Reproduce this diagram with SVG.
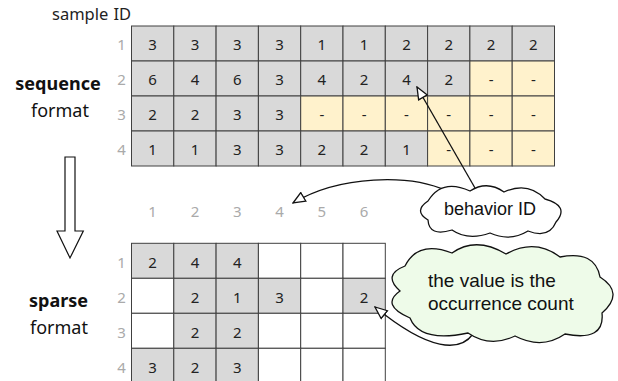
<svg xmlns="http://www.w3.org/2000/svg" width="618" height="381" viewBox="0 0 618 381">
<defs>
<style>
.g{fill:#d9d9d9;stroke:#404040;stroke-width:1}
.y{fill:#fff2cc;stroke:#404040;stroke-width:1}
.w{fill:#ffffff;stroke:#404040;stroke-width:1}
.n{font-family:"Noto Sans","Liberation Sans",sans-serif;font-size:15px;fill:#222;text-anchor:middle}
.lab{font-family:"Noto Sans","Liberation Sans",sans-serif;font-size:15px;fill:#aaaaaa;text-anchor:middle}
.big{font-family:"Noto Sans","Liberation Sans",sans-serif;font-size:18px;fill:#111;text-anchor:middle}
.ct{font-family:"Liberation Sans",Arial,sans-serif;fill:#111}
.cl{stroke:#111;stroke-width:1.3}
.conn{fill:none;stroke:#111;stroke-width:1.3}
</style>
<marker id="ah" viewBox="0 0 14 12" refX="13" refY="6" markerWidth="14" markerHeight="12" markerUnits="userSpaceOnUse" orient="auto">
<path d="M1,1 L13,6 L1,11 Z" fill="#fff" stroke="#111" stroke-width="1.3"/>
</marker>
</defs>
<rect width="618" height="381" fill="#fff"/>

<g id="title-labels">
<text x="52" y="20" font-family="'Noto Sans','Liberation Sans',sans-serif" font-size="16.5" fill="#222">sample</text>
<text x="113.5" y="20" font-family="'Noto Sans','Liberation Sans',sans-serif" font-size="16.5" fill="#222">ID</text>
<text class="big" x="58" y="90" font-weight="bold">sequence</text>
<text class="big" x="60" y="117">format</text>
<text class="big" x="58.5" y="307" font-weight="bold">sparse</text>
<text class="big" x="59" y="334">format</text>
</g>

<g id="sequence-grid">
<rect class="g" x="131.5" y="26" width="42.3" height="35"/><rect class="g" x="173.8" y="26" width="42.3" height="35"/><rect class="g" x="216.1" y="26" width="42.3" height="35"/><rect class="g" x="258.4" y="26" width="42.3" height="35"/><rect class="g" x="300.7" y="26" width="42.3" height="35"/><rect class="g" x="343" y="26" width="42.3" height="35"/><rect class="g" x="385.3" y="26" width="42.3" height="35"/><rect class="g" x="427.6" y="26" width="42.3" height="35"/><rect class="g" x="469.9" y="26" width="42.3" height="35"/><rect class="g" x="512.2" y="26" width="42.3" height="35"/>
<rect class="g" x="131.5" y="61" width="42.3" height="35"/><rect class="g" x="173.8" y="61" width="42.3" height="35"/><rect class="g" x="216.1" y="61" width="42.3" height="35"/><rect class="g" x="258.4" y="61" width="42.3" height="35"/><rect class="g" x="300.7" y="61" width="42.3" height="35"/><rect class="g" x="343" y="61" width="42.3" height="35"/><rect class="g" x="385.3" y="61" width="42.3" height="35"/><rect class="g" x="427.6" y="61" width="42.3" height="35"/><rect class="y" x="469.9" y="61" width="42.3" height="35"/><rect class="y" x="512.2" y="61" width="42.3" height="35"/>
<rect class="g" x="131.5" y="96" width="42.3" height="35"/><rect class="g" x="173.8" y="96" width="42.3" height="35"/><rect class="g" x="216.1" y="96" width="42.3" height="35"/><rect class="g" x="258.4" y="96" width="42.3" height="35"/><rect class="y" x="300.7" y="96" width="42.3" height="35"/><rect class="y" x="343" y="96" width="42.3" height="35"/><rect class="y" x="385.3" y="96" width="42.3" height="35"/><rect class="y" x="427.6" y="96" width="42.3" height="35"/><rect class="y" x="469.9" y="96" width="42.3" height="35"/><rect class="y" x="512.2" y="96" width="42.3" height="35"/>
<rect class="g" x="131.5" y="131" width="42.3" height="35"/><rect class="g" x="173.8" y="131" width="42.3" height="35"/><rect class="g" x="216.1" y="131" width="42.3" height="35"/><rect class="g" x="258.4" y="131" width="42.3" height="35"/><rect class="g" x="300.7" y="131" width="42.3" height="35"/><rect class="g" x="343" y="131" width="42.3" height="35"/><rect class="g" x="385.3" y="131" width="42.3" height="35"/><rect class="y" x="427.6" y="131" width="42.3" height="35"/><rect class="y" x="469.9" y="131" width="42.3" height="35"/><rect class="y" x="512.2" y="131" width="42.3" height="35"/>
<text class="n" y="49.5"><tspan x="152.65">3</tspan><tspan x="194.95">3</tspan><tspan x="237.25">3</tspan><tspan x="279.55">3</tspan><tspan x="321.85">1</tspan><tspan x="364.15">1</tspan><tspan x="406.45">2</tspan><tspan x="448.75">2</tspan><tspan x="491.05">2</tspan><tspan x="533.35">2</tspan></text>
<text class="n" y="84.5"><tspan x="152.65">6</tspan><tspan x="194.95">4</tspan><tspan x="237.25">6</tspan><tspan x="279.55">3</tspan><tspan x="321.85">4</tspan><tspan x="364.15">2</tspan><tspan x="406.45">4</tspan><tspan x="448.75">2</tspan><tspan x="491.05">-</tspan><tspan x="533.35">-</tspan></text>
<text class="n" y="119.5"><tspan x="152.65">2</tspan><tspan x="194.95">2</tspan><tspan x="237.25">3</tspan><tspan x="279.55">3</tspan><tspan x="321.85">-</tspan><tspan x="364.15">-</tspan><tspan x="406.45">-</tspan><tspan x="448.75">-</tspan><tspan x="491.05">-</tspan><tspan x="533.35">-</tspan></text>
<text class="n" y="154.5"><tspan x="152.65">1</tspan><tspan x="194.95">1</tspan><tspan x="237.25">3</tspan><tspan x="279.55">3</tspan><tspan x="321.85">2</tspan><tspan x="364.15">2</tspan><tspan x="406.45">1</tspan><tspan x="448.75">-</tspan><tspan x="491.05">-</tspan><tspan x="533.35">-</tspan></text>
<text class="lab" x="121.5" y="50">1</text><text class="lab" x="121.5" y="85">2</text><text class="lab" x="121.5" y="120">3</text><text class="lab" x="121.5" y="155">4</text>
</g>

<g id="behavior-id-labels">
<text class="lab" y="217" font-size="16"><tspan x="152.65">1</tspan><tspan x="194.95">2</tspan><tspan x="237.25">3</tspan><tspan x="279.55">4</tspan><tspan x="321.85">5</tspan><tspan x="364.15">6</tspan></text>
</g>

<g id="sparse-grid">
<rect class="g" x="131.5" y="243.3" width="42.3" height="35"/><rect class="g" x="173.8" y="243.3" width="42.3" height="35"/><rect class="g" x="216.1" y="243.3" width="42.3" height="35"/><rect class="w" x="258.4" y="243.3" width="42.3" height="35"/><rect class="w" x="300.7" y="243.3" width="42.3" height="35"/><rect class="w" x="343" y="243.3" width="42.3" height="35"/>
<rect class="w" x="131.5" y="278.3" width="42.3" height="35"/><rect class="g" x="173.8" y="278.3" width="42.3" height="35"/><rect class="g" x="216.1" y="278.3" width="42.3" height="35"/><rect class="g" x="258.4" y="278.3" width="42.3" height="35"/><rect class="w" x="300.7" y="278.3" width="42.3" height="35"/><rect class="g" x="343" y="278.3" width="42.3" height="35"/>
<rect class="w" x="131.5" y="313.3" width="42.3" height="35"/><rect class="g" x="173.8" y="313.3" width="42.3" height="35"/><rect class="g" x="216.1" y="313.3" width="42.3" height="35"/><rect class="w" x="258.4" y="313.3" width="42.3" height="35"/><rect class="w" x="300.7" y="313.3" width="42.3" height="35"/><rect class="w" x="343" y="313.3" width="42.3" height="35"/>
<rect class="g" x="131.5" y="348.3" width="42.3" height="35"/><rect class="g" x="173.8" y="348.3" width="42.3" height="35"/><rect class="g" x="216.1" y="348.3" width="42.3" height="35"/><rect class="w" x="258.4" y="348.3" width="42.3" height="35"/><rect class="w" x="300.7" y="348.3" width="42.3" height="35"/><rect class="w" x="343" y="348.3" width="42.3" height="35"/>
<text class="n" y="267.5"><tspan x="152.65">2</tspan><tspan x="194.95">4</tspan><tspan x="237.25">4</tspan></text>
<text class="n" y="302.5"><tspan x="194.95">2</tspan><tspan x="237.25">1</tspan><tspan x="279.55">3</tspan><tspan x="364.15">2</tspan></text>
<text class="n" y="337.5"><tspan x="194.95">2</tspan><tspan x="237.25">2</tspan></text>
<text class="n" y="372.5"><tspan x="152.65">3</tspan><tspan x="194.95">2</tspan><tspan x="237.25">3</tspan></text>
<text class="lab" x="121.5" y="268">1</text><text class="lab" x="121.5" y="303">2</text><text class="lab" x="121.5" y="338">3</text><text class="lab" x="121.5" y="373">4</text>
</g>

<g id="convert-arrow">
<polygon points="65,157 75,157 75,231 83.3,231 70,258 57,231 65,231" fill="#fff" stroke="#111" stroke-width="1.2"/>
</g>

<g id="connectors">
<path class="conn" d="M475,188 L417,87" marker-end="url(#ah)"/>
<path class="conn" d="M447,191 C410,174 340,175 293,203" marker-end="url(#ah)"/>
<path class="conn" d="M473,334 C460,352 430,352 375,307" marker-end="url(#ah)"/>
</g>

<g id="behavior-cloud">
<path class="cl" fill="#fff" d="M428,201 Q442,178 470,191 Q487,180 504,192 Q528,181 545,199 Q570,206 556,222 Q549,239 528,231 Q510,242 490,233 Q468,241 452,230 Q429,237 428,220 Q413,211 428,201 Z"/>
<text class="ct" x="490" y="215" font-size="18" text-anchor="middle">behavior ID</text>
</g>

<g id="count-cloud">
<path class="cl" fill="#eefbe9" d="M405,266 Q418,240 452,253 Q476,236 506,254 Q535,238 560,257 Q595,250 600,277 Q625,293 602,313 Q605,342 565,334 Q542,350 515,336 Q490,348 468,333 Q420,343 410,318 Q380,305 400,291 Q382,275 405,266 Z"/>
<text class="ct" font-size="19"><tspan x="428" y="287">the value is the</tspan><tspan x="428" y="310">occurrence count</tspan></text>
</g>
</svg>
